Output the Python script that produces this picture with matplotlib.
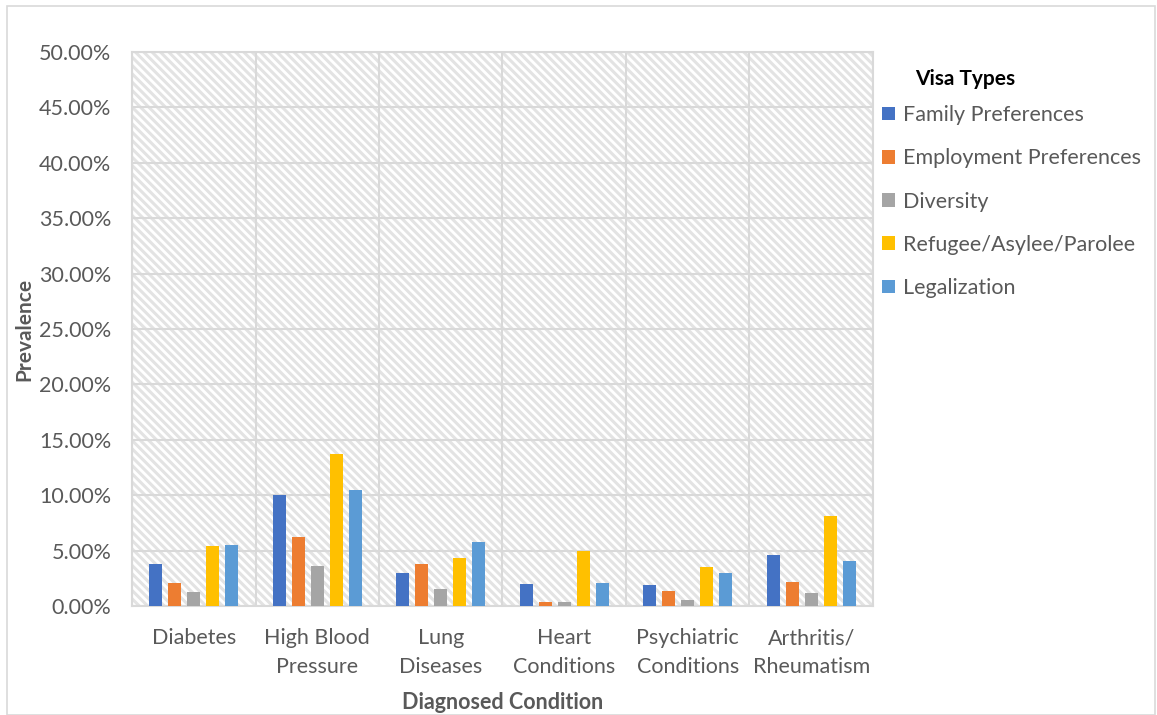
"""Prevalence of diagnosed conditions by visa type (grouped bar chart)."""

import numpy as np
import matplotlib
matplotlib.use("Agg")
import matplotlib.pyplot as plt
from matplotlib.patches import Rectangle
from matplotlib.ticker import FuncFormatter, MultipleLocator

plt.rcParams["font.family"] = ["Lato", "DejaVu Sans"]
plt.rcParams["hatch.linewidth"] = 2.2

conditions = ["Diabetes", "High Blood\nPressure", "Lung\nDiseases",
              "Heart\nConditions", "Psychiatric\nConditions", "Arthritis/\nRheumatism"]
visa_types = ["Family Preferences", "Employment Preferences", "Diversity",
              "Refugee/Asylee/Parolee", "Legalization"]
colors = ["#4472C4", "#ED7D31", "#A5A5A5", "#FFC000", "#5B9BD5"]

# prevalence (fraction) per visa type, one value per condition
family = [0.038, 0.100, 0.0295, 0.020, 0.0187, 0.046]
employment = [0.021, 0.062, 0.0382, 0.0036, 0.014, 0.0214]
diversity = [0.0126, 0.0364, 0.015, 0.0036, 0.0054, 0.012]
refugee = [0.054, 0.137, 0.043, 0.0493, 0.0352, 0.081]
legalization = [0.055, 0.1044, 0.0578, 0.021, 0.030, 0.0403]
series = [family, employment, diversity, refugee, legalization]

GRID = "#d9d9d9"
TEXT = "#595959"

fig = plt.figure(figsize=(11.57, 7.15), dpi=100)
ax = fig.add_axes([0.1141, 0.1524, 0.6404, 0.7748])

# outer chart border
fig.add_artist(Rectangle((0.006, 0.0), 0.992, 0.991, transform=fig.transFigure,
                         fill=False, edgecolor=GRID, linewidth=1.2))

# diagonal-pattern plot area background
ax.add_patch(Rectangle((0, 0), 1, 1, transform=ax.transAxes, facecolor="white",
                       edgecolor="#e3e3e3", hatch="\\\\\\\\", linewidth=0, zorder=0))

x = np.arange(len(conditions))
step = 0.154
width = 0.105
for i, (name, vals, c) in enumerate(zip(visa_types, series, colors)):
    ax.bar(x + (i - 2) * step, vals, width, color=c, label=name, zorder=3)

ax.set_xlim(-0.5, len(conditions) - 0.5)
ax.set_ylim(0, 0.5)
ax.yaxis.set_major_locator(MultipleLocator(0.05))
ax.yaxis.set_major_formatter(FuncFormatter(lambda v, _: f"{v * 100:.2f}%"))
ax.set_xticks(x)
ax.set_xticklabels(conditions, linespacing=1.55, va="top")
ax.set_xticks(np.arange(-0.5, len(conditions), 1.0), minor=True)

ax.set_axisbelow(True)
ax.grid(True, axis="y", which="major", color=GRID, linewidth=1.5, zorder=1)
ax.grid(True, axis="x", which="minor", color=GRID, linewidth=1.5, zorder=1)
ax.tick_params(axis="y", length=0, labelsize=15.5, colors=TEXT, pad=15)
ax.tick_params(axis="x", which="both", length=0, labelsize=15.5, colors=TEXT, pad=16)
for sp in ax.spines.values():
    sp.set_color(GRID)
    sp.set_linewidth(1.5)

ax.set_ylabel("Prevalence", fontsize=15, fontweight="bold", color=TEXT, labelpad=3)
ax.set_xlabel("Diagnosed Condition", fontsize=15.5, fontweight="bold", color=TEXT, labelpad=11)

leg = ax.legend(loc="upper left", bbox_to_anchor=(0.762, 0.853),
                bbox_transform=fig.transFigure, frameon=False, fontsize=15.5,
                handlelength=0.6, handleheight=0.6, handletextpad=0.4,
                labelspacing=1.08, borderaxespad=0, borderpad=0)
for t in leg.get_texts():
    t.set_color(TEXT)
fig.text(0.791, 0.889, "Visa Types", fontsize=15, fontweight="bold", color="black",
         ha="left", va="center")

fig.savefig("out.png", dpi=100)
